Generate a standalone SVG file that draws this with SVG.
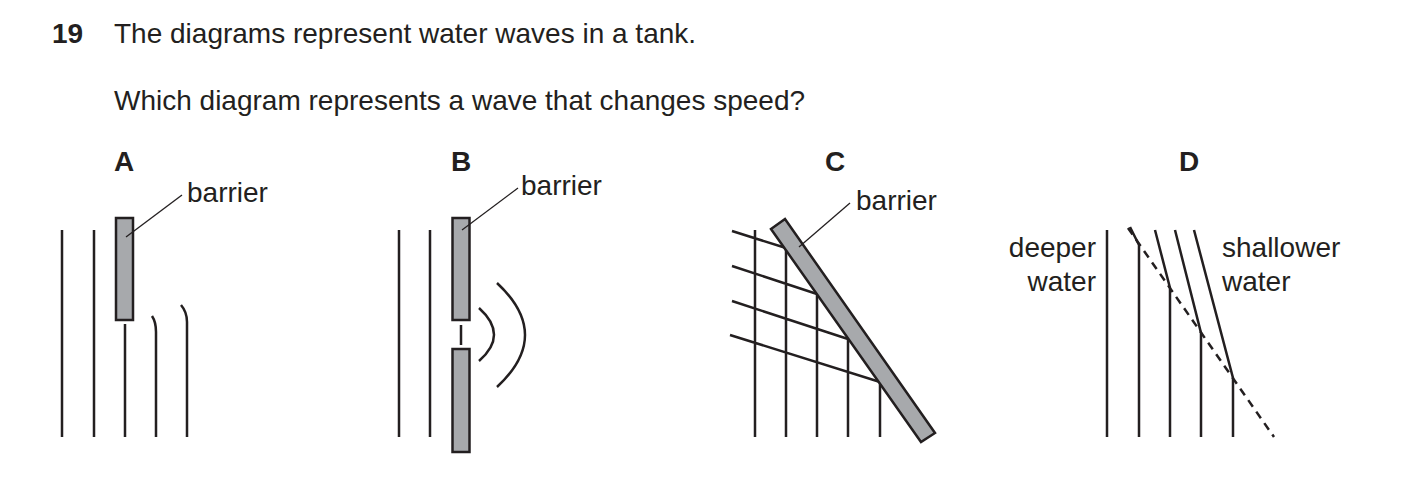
<svg xmlns="http://www.w3.org/2000/svg" width="1403" height="502" viewBox="0 0 1403 502">
<style>
text{font-family:"Liberation Sans",Arial,sans-serif;font-size:28px;fill:#231f20}
.b{font-weight:bold}
.w{fill:none;stroke:#231f20;stroke-width:2.5}
.l{fill:none;stroke:#231f20;stroke-width:1.3}
.bar{fill:#a7a9ac;stroke:#231f20;stroke-width:2.5}
</style>
<rect width="1403" height="502" fill="#fff"/>
<g id="title">
<text x="52" y="43" class="b">19</text>
<text x="114" y="43">The diagrams represent water waves in a tank.</text>
<text x="114" y="110">Which diagram represents a wave that changes speed?</text>
</g>
<g id="A">
<text x="124" y="171" class="b" text-anchor="middle">A</text>
<text x="187" y="202">barrier</text>
<rect class="bar" x="116" y="218" width="17" height="102"/>
<path class="w" d="M62 230V437M94 230V437M125 324V437M152 316Q156 322 156 332V437M181 305Q187 312 187 322V437"/>
<path class="l" d="M182 195L126 237"/>
</g>
<g id="B">
<text x="461" y="171" class="b" text-anchor="middle">B</text>
<text x="521" y="195">barrier</text>
<rect class="bar" x="452.5" y="218" width="17" height="102"/>
<rect class="bar" x="452.5" y="349" width="17" height="103"/>
<path class="w" d="M399 230V437M430 230V437M461 325V345M479 308Q509 335 479 361M497 283Q553 335 497 387"/>
<path class="l" d="M518 188L462 230"/>
</g>
<g id="C">
<text x="835" y="171" class="b" text-anchor="middle">C</text>
<text x="856" y="210">barrier</text>
<path class="w" d="M755 230V437M786 248V437M817 293V437M848 338V437M880 382V437M732 231L786 248M732 266L817 294M732 301L848 339M730 335L880 382"/>
<polygon class="bar" points="771,229 785,219 935,433 921,442"/>
<path class="l" d="M850 203L799 247"/>
</g>
<g id="D">
<text x="1189" y="171" class="b" text-anchor="middle">D</text>
<text x="1096" y="257" text-anchor="end">deeper</text>
<text x="1096" y="291" text-anchor="end">water</text>
<text x="1222" y="257">shallower</text>
<text x="1222" y="291">water</text>
<path class="w" d="M1107 230V437M1130 227L1139 245V437M1155 230L1170 288V437M1175 230L1201 333V437M1194 230L1233 378V437"/>
<path class="w" stroke-dasharray="8,6" d="M1128 228L1274 437"/>
</g>
</svg>
